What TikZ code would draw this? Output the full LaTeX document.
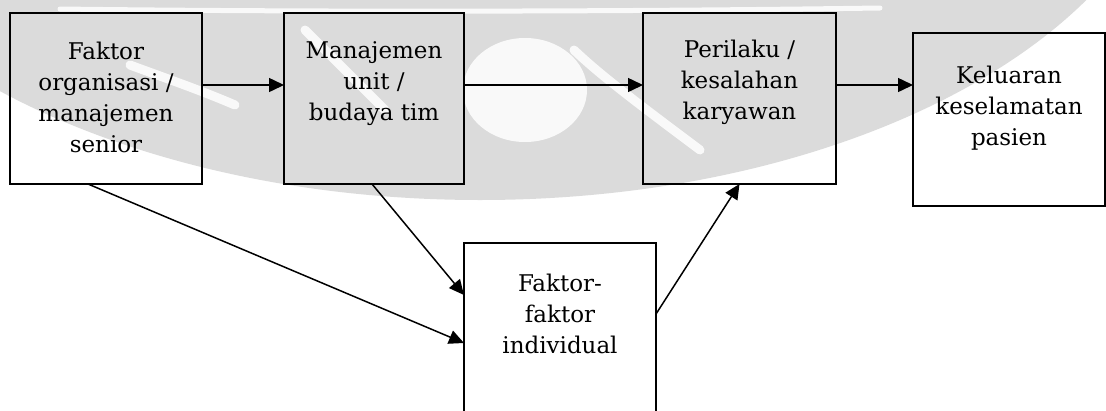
\documentclass[tikz,border=0pt]{standalone}
\usepackage{fontspec}
\setmainfont{DejaVu Serif}
\usetikzlibrary{arrows.meta}
\newcommand\boxtxt[4]{\parbox[c][#2][t]{#1}{\centering\fontsize{23pt}{31pt}\selectfont\rule{0pt}{#3}#4\par}}
\begin{document}
\begin{tikzpicture}[x=1pt,y=-1pt,
  box/.style={draw=black, line width=1.5pt, inner sep=0pt, outer sep=0pt},
  arr/.style={draw=black, line width=1.5pt, -{Triangle[length=15pt,width=14pt]}},
  wm/.style={fill=black!14, draw=none},
  streak/.style={draw=white, opacity=0.85, line width=9pt, line cap=round}]
\useasboundingbox (0,0) rectangle (1106,410);
\clip (0,0) rectangle (1106,410);
% faint watermark
\fill[wm] (480,-200) ellipse [x radius=700, y radius=400];
\fill[wm] (955,22) circle [radius=32];
\draw[streak, line width=5pt] (60,9) .. controls (300,12) and (600,12) .. (880,8);
\draw[streak] (130,65) .. controls (165,78) and (200,90) .. (235,105);
\draw[streak] (305,30) .. controls (330,55) and (360,85) .. (385,110);
\fill[white, opacity=0.85] (525,90) ellipse [x radius=62, y radius=52];
\draw[streak] (574,50) .. controls (600,75) and (640,105) .. (700,150);
% boxes
\node[box] (A) at (106,98.5) {\boxtxt{192pt}{171pt}{46pt}{Faktor\\organisasi /\\manajemen\\senior}};
\node[box] (B) at (374,98.5) {\boxtxt{180pt}{171pt}{45pt}{Manajemen\\unit /\\budaya tim}};
\node[box] (C) at (739.5,98.5) {\boxtxt{193pt}{171pt}{44pt}{Perilaku /\\kesalahan\\karyawan}};
\node[box] (D) at (1009,119.5) {\boxtxt{192pt}{173pt}{50pt}{Keluaran\\keselamatan\\pasien}};
\node[box] (E) at (560,343) {\boxtxt{192pt}{200pt}{48pt}{Faktor-\\faktor\\individual}};
% connectors
\draw[arr] ([yshift=13.5pt]A.east) -- ([yshift=13.5pt]B.west);
\draw[arr] ([yshift=13.5pt]B.east) -- ([yshift=13.5pt]C.west);
\draw[arr] ([yshift=13.5pt]C.east) -- ([yshift=34.5pt]D.west);
\draw[arr] ([xshift=-18pt]A.south) -- (E.west);
\draw[arr] ([xshift=-2pt]B.south) -- ([yshift=48pt]E.west);
\draw[arr] ([yshift=29pt]E.east) -- (C.south);
\end{tikzpicture}
\end{document}
